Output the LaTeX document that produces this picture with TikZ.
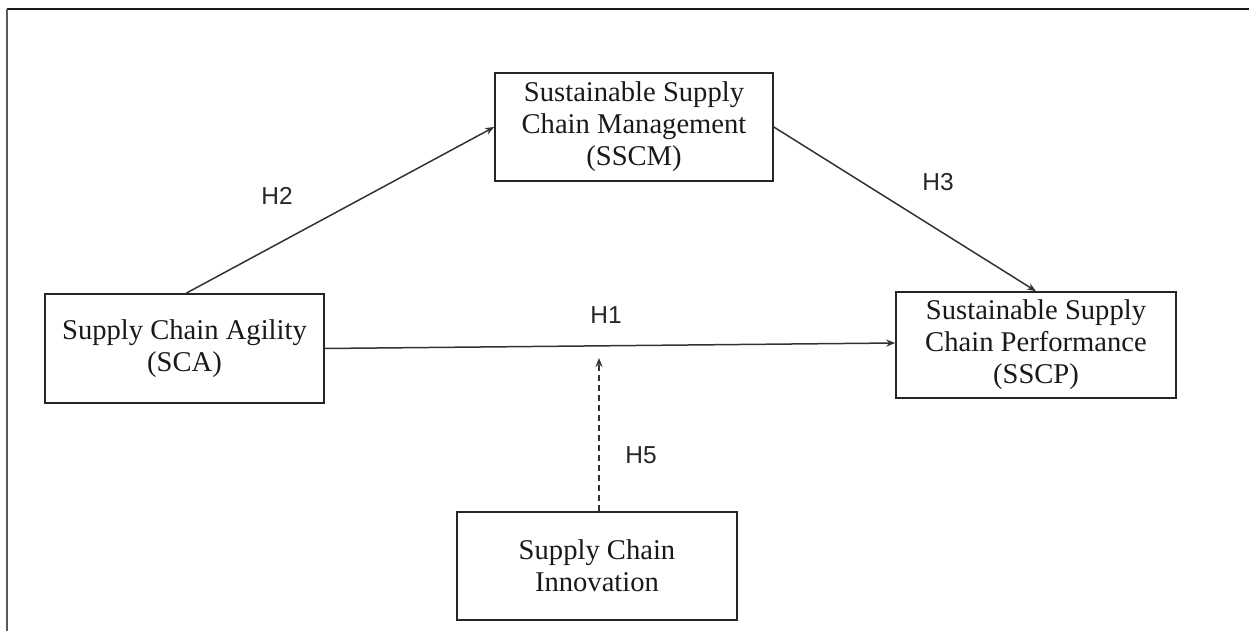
\documentclass[tikz,border=0pt]{standalone}
\usepackage{fontspec}
\setmainfont{Liberation Serif}
\newfontfamily\labelfont{Liberation Sans}
\usetikzlibrary{arrows.meta}
\begin{document}
\begin{tikzpicture}[x=1pt,y=-1pt,
  box/.style={draw=black!85,line width=1.6pt,rectangle,align=center,inner sep=0pt,
    font=\fontsize{28.6}{32}\selectfont,text=black!90},
  hyp/.style={font=\labelfont\fontsize{24.5}{26}\selectfont,inner sep=0pt,text=black!85},
  link/.style={draw=black!80,line width=1.5pt,-{Stealth[length=9pt,width=7pt]}},
  modlink/.style={link,dash pattern=on 6pt off 4pt}]
\useasboundingbox (0,0) rectangle (1249,631);
% frame
\draw[line width=2pt,black!90] (7,9) -- (1249,9);
\draw[line width=2.2pt,black!65] (7,9) -- (7,631);
% boxes
\node[box,minimum width=278pt,minimum height=108pt] (sscm) at (634,127) {Sustainable Supply\\Chain Management\\(SSCM)};
\node[box,minimum width=279pt,minimum height=109pt] (sca) at (184.5,348.5) {Supply Chain Agility\\(SCA)};
\node[box,minimum width=280pt,minimum height=106pt] (sscp) at (1036,345) {Sustainable Supply\\Chain Performance\\(SSCP)};
\node[box,minimum width=280pt,minimum height=108pt] (sci) at (597,566) {Supply Chain\\Innovation};
% connectors
\coordinate (mod) at (599,358);
\draw[link] ([xshift=142pt]sca.north west) -- (sscm.west);
\draw[link] (sscm.east) -- (sscp.north);
\draw[link] (sca.east) -- ([yshift=2pt]sscp.west);
\draw[modlink] ([xshift=2pt]sci.north) -- (mod);
% labels
\node[hyp] (h2) at (277,196) {H2};
\node[hyp] (h3) at (938,182) {H3};
\node[hyp] (h1) at (606,315) {H1};
\node[hyp] (h5) at (641,455) {H5};
\end{tikzpicture}
\end{document}
